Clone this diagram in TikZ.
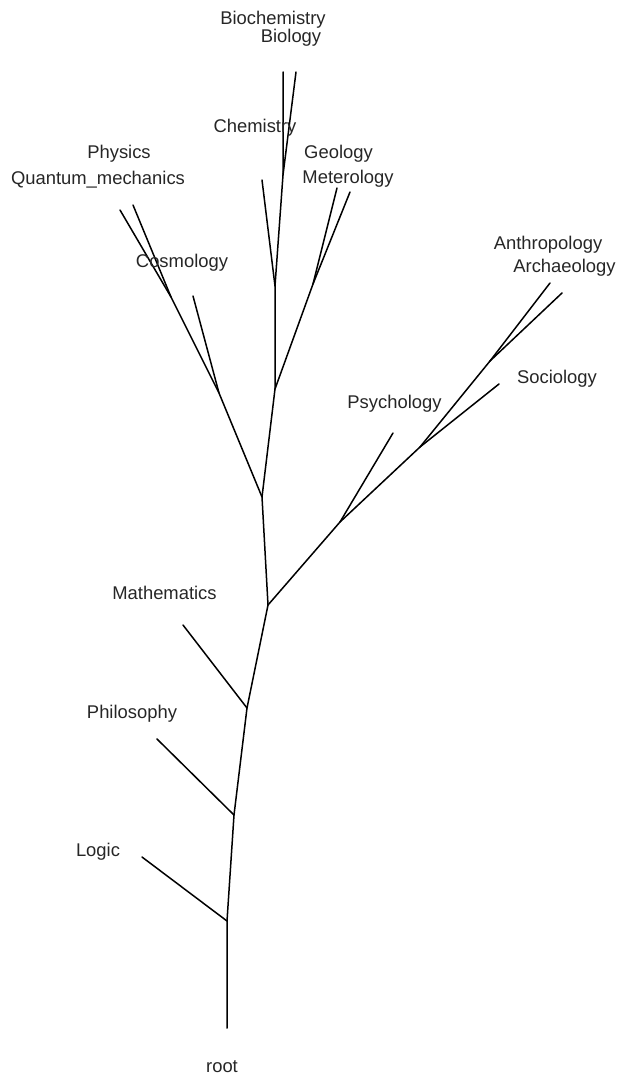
\documentclass[tikz,border=0pt]{standalone}
\usepackage{fontspec}
\setmainfont{Liberation Sans}
\begin{document}
\begin{tikzpicture}[x=1pt,y=-1pt,
  branch/.style={line width=1.5pt,line cap=round},
  tip/.style={anchor=base,inner sep=0pt,text=black!85,font=\fontsize{18.4}{20}\selectfont}]
\useasboundingbox (0,0) rectangle (618,1078);

% internal nodes
\coordinate (base) at (227,1028);
\coordinate (jLogic) at (227,921);
\coordinate (jPhil) at (234,815);
\coordinate (jMath) at (247,708);
\coordinate (jSci) at (268,605);
\coordinate (jNat) at (262,497);
\coordinate (jPhys) at (219,393);
\coordinate (jQM) at (171,297);
\coordinate (jMid) at (275,389);
\coordinate (jChem) at (275,286);
\coordinate (jBio) at (283,175);
\coordinate (jGeo) at (313,284);
\coordinate (jSoc) at (340,522);
\coordinate (jSocio) at (420,447);
\coordinate (jAnth) at (490,361);

% leaf ends
\coordinate (lLogic) at (142,857);
\coordinate (lPhil) at (157,739);
\coordinate (lMath) at (183,625);
\coordinate (lCosmo) at (193,296);
\coordinate (lPhysics) at (133,205);
\coordinate (lQM) at (120,210);
\coordinate (lChem) at (262,180);
\coordinate (lBiochem) at (283,72);
\coordinate (lBiology) at (296,72);
\coordinate (lGeology) at (337,188);
\coordinate (lMeteo) at (350,192);
\coordinate (lPsych) at (393,433);
\coordinate (lSocio) at (499,384);
\coordinate (lAnthro) at (550,283);
\coordinate (lArch) at (562,293);

% branches
\draw[branch] (base) -- (jLogic) -- (jPhil) -- (jMath) -- (jSci) -- (jNat) -- (jMid) -- (jChem) -- (jBio) -- (lBiochem);
\draw[branch] (jLogic) -- (lLogic);
\draw[branch] (jPhil) -- (lPhil);
\draw[branch] (jMath) -- (lMath);
\draw[branch] (jNat) -- (jPhys) -- (jQM) -- (lPhysics);
\draw[branch] (jQM) -- (lQM);
\draw[branch] (jPhys) -- (lCosmo);
\draw[branch] (jChem) -- (lChem);
\draw[branch] (jBio) -- (lBiology);
\draw[branch] (jMid) -- (jGeo) -- (lGeology);
\draw[branch] (jGeo) -- (lMeteo);
\draw[branch] (jSci) -- (jSoc) -- (jSocio) -- (jAnth) -- (lAnthro);
\draw[branch] (jAnth) -- (lArch);
\draw[branch] (jSocio) -- (lSocio);
\draw[branch] (jSoc) -- (lPsych);

% labels
\node[tip] (tBiochem) at (273,25) {Biochemistry};
\node[tip] (tBiology) at (291,43) {Biology};
\node[tip] (tChem) at (255,133) {Chemistry};
\node[tip] (tGeology) at (338.5,159) {Geology};
\node[tip] (tMeteo) at (348,184) {Meterology};
\node[tip] (tPhysics) at (119,159) {Physics};
\node[tip] (tQM) at (98,185) {Quantum\_mechanics};
\node[tip] (tCosmo) at (182,267) {Cosmology};
\node[tip] (tAnthro) at (548,249) {Anthropology};
\node[tip] (tArch) at (564.5,272) {Archaeology};
\node[tip] (tSocio) at (557,383) {Sociology};
\node[tip] (tPsych) at (394.5,408) {Psychology};
\node[tip] (tMath) at (164.5,599) {Mathematics};
\node[tip] (tPhil) at (132,718) {Philosophy};
\node[tip] (tLogic) at (98,856) {Logic};
\node[tip] (tRoot) at (222,1072) {root};
\end{tikzpicture}
\end{document}
